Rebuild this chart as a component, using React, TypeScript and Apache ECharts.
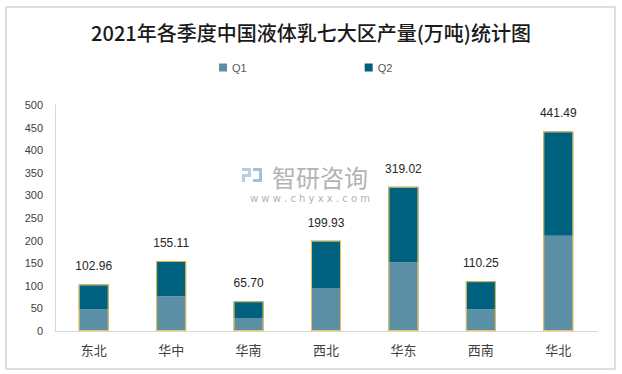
import React, { useEffect, useRef } from "react";
import * as echarts from "echarts";

const categories = ["东北", "华中", "华南", "西北", "华东", "西南", "华北"];
const q1 = [48.5, 77, 29, 95, 152, 48, 211];
const q2 = [54.46, 78.11, 36.7, 104.93, 167.02, 62.25, 230.49];
const totals = [102.96, 155.11, 65.7, 199.93, 319.02, 110.25, 441.49];
const yTicks = [0, 50, 100, 150, 200, 250, 300, 350, 400, 450, 500];

export default function App() {
  const ref = useRef<HTMLDivElement>(null);
  useEffect(() => {
    document.body.style.margin = "0";
    const chart = echarts.init(ref.current!, null, { renderer: "svg" });
    chart.setOption({
      animation: false,
      backgroundColor: "#ffffff",
      title: {
        text: "2021年各季度中国液体乳七大区产量(万吨)统计图",
        left: "center",
        top: 17,
        textStyle: {
          fontFamily: "Noto Sans CJK SC",
          fontSize: 20,
          fontWeight: 500,
          color: "#1a1a1a",
        },
      },
      legend: {
        top: 57,
        left: 214,
        itemGap: 118,
        itemWidth: 8,
        itemHeight: 8,
        icon: "rect",
        itemStyle: { borderWidth: 0 },
        textStyle: { fontFamily: "Liberation Sans", fontSize: 11, color: "#595959" },
        data: ["Q1", "Q2"],
      },
      graphic: [
        {
          type: "rect",
          shape: { x: 6, y: 7, width: 609, height: 362 },
          style: { fill: "none", stroke: "#bfbfbf", lineWidth: 1 },
          silent: true,
          z: -1,
        },
        {
          type: "group",
          silent: true,
          z: 0,
          children: [
            { type: "rect", shape: { x: 242, y: 168, width: 9, height: 3 }, style: { fill: "#b7cfe0" } },
            { type: "rect", shape: { x: 248, y: 168, width: 3, height: 8 }, style: { fill: "#b7cfe0" } },
            { type: "rect", shape: { x: 242, y: 174, width: 9, height: 3 }, style: { fill: "#b7cfe0" } },
            { type: "rect", shape: { x: 242, y: 174, width: 3, height: 8 }, style: { fill: "#b7cfe0" } },
            { type: "rect", shape: { x: 253, y: 168, width: 9, height: 3 }, style: { fill: "#9fc3df" } },
            { type: "rect", shape: { x: 259, y: 168, width: 3, height: 14 }, style: { fill: "#9fc3df" } },
            { type: "rect", shape: { x: 253, y: 179, width: 9, height: 3 }, style: { fill: "#9fc3df" } },
            {
              type: "text",
              x: 272,
              y: 176,
              style: {
                text: "智研咨询",
                fontFamily: "Noto Sans CJK SC",
                fontSize: 24,
                fill: "#b3b3b3",
                verticalAlign: "middle",
                align: "left",
              },
            },
            {
              type: "text",
              x: 310,
              y: 198,
              style: {
                text: "w w w . c h y x x . c o m",
                fontFamily: "DejaVu Sans",
                fontSize: 10,
                fill: "#b3b3b3",
                verticalAlign: "middle",
                align: "center",
              },
            },
          ],
        },
      ],
      grid: { left: 55, right: 25, top: 105, bottom: 43 },
      xAxis: {
        type: "category",
        data: categories,
        axisLine: { show: true, lineStyle: { color: "#d9d9d9" } },
        axisTick: { show: false },
        axisLabel: {
          fontFamily: "Noto Sans CJK SC",
          fontSize: 13,
          color: "#404040",
          margin: 12,
        },
      },
      yAxis: {
        type: "value",
        min: 0,
        max: 500,
        interval: 50,
        axisLine: { show: true, lineStyle: { color: "#d9d9d9" } },
        axisTick: { show: false },
        splitLine: { show: false },
        axisLabel: {
          fontFamily: "Liberation Sans",
          fontSize: 11,
          color: "#404040",
          margin: 12,
          formatter: (v: number) => (yTicks.includes(v) ? String(v) : ""),
        },
      },
      series: [
        {
          name: "Q1",
          type: "bar",
          stack: "total",
          data: q1,
          barWidth: 30,
          itemStyle: { color: "#5b8fa6" },
        },
        {
          name: "Q2",
          type: "bar",
          stack: "total",
          data: q2,
          barWidth: 30,
          itemStyle: { color: "#00617f" },
        },
        {
          name: "合计",
          type: "bar",
          data: totals,
          barWidth: 30,
          barGap: "-100%",
          z: 3,
          itemStyle: { color: "rgba(0,0,0,0)", borderColor: "#f2c14e", borderWidth: 1 },
          label: {
            show: true,
            position: "top",
            distance: 12,
            fontFamily: "Liberation Sans",
            fontSize: 12,
            color: "#262626",
            formatter: (p: any) => totals[p.dataIndex].toFixed(2),
          },
        },
      ],
    });
    return () => chart.dispose();
  }, []);
  return <div ref={ref} style={{ width: 622, height: 374 }} />;
}
